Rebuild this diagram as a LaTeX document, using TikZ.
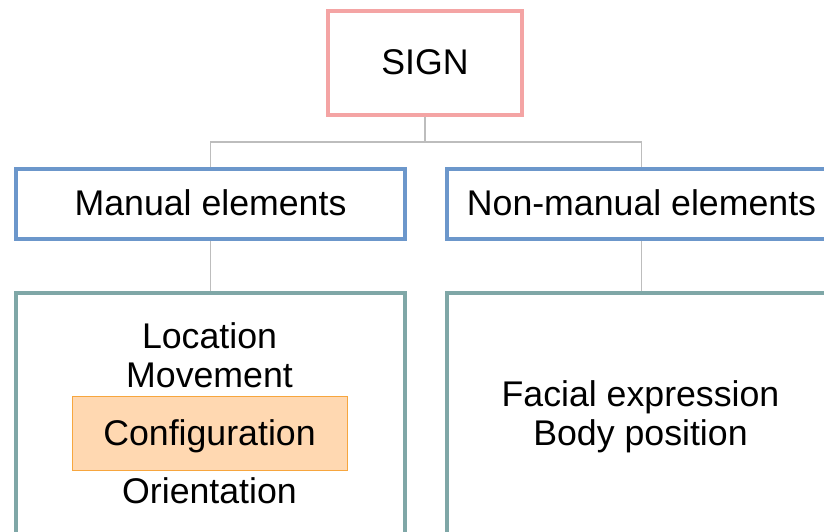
\documentclass[tikz,border=0pt]{standalone}
\usepackage{fontspec}
\setmainfont{Liberation Sans}
\usetikzlibrary{backgrounds}

\definecolor{signpink}{HTML}{F4A4A4}
\definecolor{groupblue}{HTML}{6C97CB}
\definecolor{listteal}{HTML}{7FA7A7}
\definecolor{peachfill}{HTML}{FFD8B1}
\definecolor{peachedge}{HTML}{F7A63E}
\definecolor{linkgray}{HTML}{BDBDBD}

\tikzset{
  labelfont/.style={font=\fontsize{35.7}{42}\selectfont},
  box/.style={draw, line width=4pt, fill=white, inner sep=0pt, labelfont},
  signbox/.style={box, draw=signpink, minimum width=194pt, minimum height=104pt},
  groupbox/.style={box, draw=groupblue, minimum width=389pt, minimum height=70pt},
  listbox/.style={box, draw=listteal, minimum width=389pt, minimum height=310pt},
  highlight/.style={draw=peachedge, fill=peachfill, line width=1pt, inner sep=0pt,
    minimum width=275pt, minimum height=74pt},
  item/.style={inner sep=0pt, anchor=base, labelfont},
  link/.style={draw=linkgray, line width=1.6pt}
}

\begin{document}
\begin{tikzpicture}[x=1pt, y=-1pt]
  \useasboundingbox (0,0) rectangle (824,531);
  \clip (0,0) rectangle (824,531);

  % top node
  \node[signbox] (sign) at (425,63) {};
  \node[item] (signtxt) at (425,74) {SIGN};

  % two groups of elements
  \node[groupbox] (manual) at (210.5,204) {};
  \node[item] (manualtxt) at (210.5,215) {Manual elements};
  \node[groupbox] (nonmanual) at (641.5,204) {};
  \node[item] (nonmanualtxt) at (641.5,215) {Non-manual elements};

  % lists of elements
  \node[listbox] (manlist) at (210.5,448) {};
  \node[listbox] (nonlist) at (641.5,448) {};

  \node[item] (location) at (209.5,348) {Location};
  \node[item] (movement) at (209.5,387) {Movement};
  \node[highlight] (config) at (209.5,433) {};
  \node[item] (configtxt) at (209.5,445) {Configuration};
  \node[item] (orient) at (209.5,503) {Orientation};

  \node[item] (facial) at (640.5,406) {Facial expression};
  \node[item] (body) at (640.5,445) {Body position};

  % connectors, kept behind the boxes
  \coordinate (junc) at (425,142);
  \begin{pgfonlayer}{background}
    \draw[link] (sign.south) -- (junc);
    \draw[link] (manual.north) |- (junc) -| (nonmanual.north);
    \draw[link] (manual.south) -- (manlist.north);
    \draw[link] (nonmanual.south) -- (nonlist.north);
  \end{pgfonlayer}
\end{tikzpicture}
\end{document}
